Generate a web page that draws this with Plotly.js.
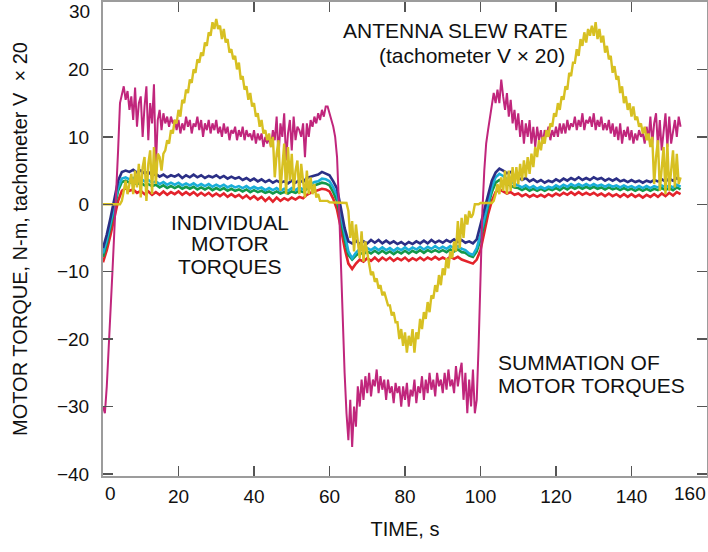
<!DOCTYPE html>
<html>
<head>
<meta charset="utf-8">
<script src="https://cdn.plot.ly/plotly-3.0.1.min.js"></script>
<style>
html,body{margin:0;padding:0;background:#fff;}
#chart{width:708px;height:552px;}
</style>
</head>
<body>
<div id="chart"></div>
<script>
// ---- Data ----
// Summation of motor torques, sampled every 0.5 s from t = 0 to 153 s
const summation = [
-30,-31,-27,-22,-16,-10,-4,1,8,15,
16.5,17.5,15.5,16.8,14,16,12.5,17.3,11.5,15,
16,10,14.5,17.5,9.5,15,12,17.8,5.5,12.5,
14,11,13.5,12,13,11.5,13,12,12.5,11,
12.5,10.5,12,11,13,11.5,12.5,10.5,12,11.5,
13,11,12.5,10,12,11,12.5,10.5,12,11,
12.5,10.5,11.5,10,12,10.5,11.5,9.5,11,10.5,
11.5,9.5,11,10,11.5,9.5,11,10,10.5,9.5,
11,9,10.5,9.5,10.5,8.5,10,9,10,8.5,
11,9.5,13,7,12,10,13.5,6.5,10.5,12.5,
8,13,9.5,11.5,11,10,12,7,12,10,
12.5,11.5,13,12,13.5,12.5,14,13,14.5,14.5,
13.5,12.5,11.5,10,7,0,-9,-18,-25,-31,
-35,-29,-36,-30,-33,-27,-30,-26,-29,-25.5,
-28,-25,-28.5,-26,-27,-24.5,-28,-25.5,-27.5,-26,
-29,-26,-28,-27,-29.5,-26.5,-28,-27,-30,-27,
-29,-26.5,-30,-27.5,-28.5,-26,-29.5,-27,-28,-25.5,
-29,-26,-28,-25,-27.5,-26,-28.5,-25,-27,-26,
-28,-25,-27.5,-24.5,-27,-26,-28,-24,-27,-25,
-23.5,-29,-25,-31,-26,-30,-24.5,-31,-29,-21,
-10,-1,5,9,11,13,15,16.5,15,17,
15,18.5,16,14,16.5,13,15.5,12,14,11,
13.5,10,12.5,9,12,10,12.5,9,11.5,8.5,
11.5,9.5,11,9,11,10,11.5,9.5,11,10,
11.5,10,12,10.5,12,10.5,12.5,11,12,11.5,
13,11,12.5,11.5,13.5,11,12.5,12,13,11.5,
13.5,11,12.5,11.5,13,11,12,11,12.5,10.5,
12,10,11.5,9.5,12,9,11,10,11.5,9.5,
11,9,10.5,9.5,11,10,10.5,9,11.5,9.5,
13,9,12,13.5,8.5,12.5,8,10.5,13.5,8.5,
13,9,11,12.5,10,13,11.5
];

// Antenna slew rate (tachometer V x 20), sampled every 0.5 s
const slewRate = [
0,0,0,0,0,0,0,0,0,0,
0.5,2,3.5,1.5,3,4.5,1.5,5,2.5,6,
1,5.5,7,0.5,6,8,1.5,8.5,3,7.5,
7,5,7.5,8,9.5,9,11,10.5,12.5,12,
14,13,15.5,15,17,16.5,18.5,18,20,19.5,
21.5,21,22.5,22,24,23.5,25.5,25,27,26,
27.5,26,26.5,24.5,26,24,24.5,22.5,23,21.5,
22,20,21,18.5,19,17,17.5,15.5,16.5,14.5,
15,13,13.5,11.5,12.5,10.5,11,9.5,10.5,8.5,
10,4,7.5,9.5,2,6,9,1.5,8.5,3.5,
7.5,2,5,6.5,1.5,6,3.5,1,5,1.5,
4,1.5,3,1,1.5,0.5,0.5,0.5,0.5,0.5,
0.3,0.3,0.3,0.3,0.3,0.3,0.3,0.2,0.2,0.2,
-1,-5,-2.5,-7,-3,-6,-8,-4,-8.5,-5.5,
-7,-9,-10.5,-10,-11.5,-11,-12.5,-12,-13.5,-13,
-14,-15,-15,-16.5,-16,-17.5,-17.5,-20,-18.5,-21,
-19,-22,-19.5,-21,-18.5,-22,-19,-20,-17,-18.5,
-16,-17,-14.5,-16,-13.5,-14,-12,-13,-10.5,-12,
-9.5,-10.5,-8,-9.5,-7,-8,-5.5,-7,-2.5,-6.5,
-2,-5,-1.5,-3,-1,-2,-1.5,0,0,0,
0.2,0.2,0.2,0.2,0.2,0.2,0.2,0.5,1.5,3,
1.5,4,2,5,1.5,5,2,5.5,2.5,5.5,
3,6,3.5,6.5,4,7,4.5,7.5,5.5,8.5,
7,9.5,8,10,9,11,10,12,11.5,13.5,
13,15,14,16,15.5,17.5,17,19.5,19,21,
21,23,22,24.5,23.5,25.5,24,26,25,26.5,
25,27,24.5,26,24,25,22.5,23.5,21.5,22,
19.5,20.5,18.5,19,16.5,17.5,15,16,14,15,
13,14.5,12.5,13,11.5,12,10.5,11.5,9.5,10.5,
8.5,10,3,7,9.5,2,6,8.5,1.5,9,
2,5,8,2.5,7.5,3,4
];

// Individual motor torques, sampled every 1 s from t = 0 to 153 s
const motorNavy = [
-6.5,-4.5,-2,0.6,3.5,4.8,5,4.8,5.1,4.7,
5,4.6,4.8,4.3,4.5,4.1,4.4,4.0,4.3,4.1,
4.4,3.9,4.3,4.0,4.4,4.0,4.3,3.9,4.2,4.0,
4.3,3.9,4.2,3.8,4.1,3.8,4.0,3.6,3.9,3.5,
3.8,3.4,3.7,3.3,3.6,3.2,3.5,3.2,3.4,3.1,
3.5,3.2,3.6,3.3,3.9,4.1,4.3,4.4,4.8,4.6,
4.3,3.4,2.3,-0.5,-3.5,-5.5,-5.8,-5.4,-5.9,-5.5,
-5.8,-5.3,-5.7,-5.3,-5.8,-5.4,-5.8,-5.5,-5.9,-5.6,
-6.0,-5.6,-5.9,-5.5,-5.8,-5.4,-5.8,-5.3,-5.7,-5.4,
-5.7,-5.3,-5.6,-5.2,-5.6,-5.3,-5.7,-5.5,-5.8,-5.2,
-3,-0.8,1.5,3.5,4.7,5.3,5.0,4.6,4.8,4.2,
4.0,3.6,3.9,3.4,3.7,3.3,3.6,3.2,3.5,3.3,
3.7,3.4,3.8,3.5,3.9,3.6,4.0,3.6,3.9,3.6,
4.0,3.7,3.9,3.5,3.8,3.5,3.8,3.4,3.6,3.3,
3.6,3.3,3.5,3.2,3.5,3.3,3.6,3.4,3.7,3.4,
3.8,3.5,3.9,3.6
];
const motorCyan = [
-7.3,-5.3,-2.8,-0.3,2.5,3.8,4.0,3.7,3.9,3.6,
3.8,3.4,3.6,3.2,3.4,3.0,3.3,2.9,3.2,2.9,
3.2,2.8,3.1,2.8,3.1,2.7,3.0,2.7,3.0,2.6,
2.9,2.6,2.9,2.5,2.8,2.5,2.7,2.4,2.7,2.3,
2.6,2.3,2.5,2.1,2.4,2.1,2.4,2.0,2.3,2.0,
2.4,2.1,2.5,2.2,2.8,3.0,3.3,3.4,3.8,3.7,
3.4,2.5,1.3,-1.5,-4.5,-7.0,-8.0,-7.2,-6.6,-6.9,
-6.5,-6.8,-6.4,-6.8,-6.4,-6.8,-6.5,-6.9,-6.5,-6.8,
-6.4,-6.8,-6.4,-6.7,-6.3,-6.7,-6.3,-6.6,-6.2,-6.6,
-6.3,-6.6,-6.2,-6.5,-6.2,-6.6,-6.8,-7.3,-7.5,-6.5,
-4.5,-2,0.5,2.5,4.0,4.5,4.2,3.7,3.5,3.0,
2.8,2.5,2.8,2.4,2.7,2.3,2.6,2.3,2.6,2.4,
2.8,2.5,2.9,2.6,3.0,2.7,3.0,2.7,3.0,2.7,
3.0,2.7,2.9,2.6,2.9,2.6,2.8,2.5,2.8,2.5,
2.7,2.4,2.7,2.4,2.7,2.4,2.7,2.5,2.8,2.5,
2.8,2.5,2.9,2.6
];
const motorGreen = [
-7.8,-5.8,-3.3,-0.8,2.0,3.3,3.5,3.2,3.3,3.0,
3.2,2.8,3.0,2.7,2.9,2.5,2.8,2.4,2.7,2.4,
2.7,2.3,2.6,2.3,2.6,2.2,2.5,2.2,2.5,2.1,
2.4,2.1,2.4,2.0,2.3,2.0,2.2,1.9,2.2,1.8,
2.1,1.8,2.0,1.7,1.9,1.6,1.9,1.6,1.8,1.6,
1.9,1.7,2.0,1.8,2.3,2.6,2.8,2.9,3.2,3.1,
2.8,1.8,0.5,-2.3,-5.2,-7.5,-8.2,-7.6,-7.2,-7.4,
-7.0,-7.3,-6.9,-7.3,-6.9,-7.3,-7.0,-7.4,-7.0,-7.3,
-6.9,-7.3,-6.9,-7.2,-6.8,-7.2,-6.8,-7.1,-6.8,-7.1,
-6.8,-7.1,-6.7,-7.0,-6.7,-7.1,-7.2,-7.6,-7.8,-7.0,
-5.2,-2.8,-0.2,1.8,3.2,3.6,3.3,3.0,2.8,2.5,
2.4,2.1,2.4,2.0,2.3,2.0,2.3,2.0,2.3,2.1,
2.4,2.1,2.5,2.2,2.6,2.3,2.6,2.3,2.6,2.3,
2.6,2.3,2.5,2.2,2.5,2.2,2.4,2.1,2.4,2.1,
2.3,2.0,2.3,2.0,2.3,2.0,2.3,2.1,2.4,2.1,
2.4,2.1,2.5,2.2
];
const motorRed = [
-8.6,-6.8,-4.5,-2.2,0.5,2.0,2.4,2.0,2.2,1.7,
2.0,1.5,1.9,1.4,1.8,1.4,1.9,1.4,1.8,1.5,
1.9,1.4,1.8,1.4,1.8,1.3,1.7,1.3,1.7,1.2,
1.6,1.2,1.6,1.1,1.5,1.1,1.4,0.9,1.3,0.8,
1.2,0.7,1.1,0.5,1.0,0.4,1.0,0.5,0.9,0.6,
1.0,0.7,1.1,0.9,1.4,1.7,1.9,2.0,2.3,2.2,
1.9,0.8,-0.8,-3.5,-6.5,-8.8,-9.6,-8.8,-8.2,-8.5,
-8.0,-8.4,-7.9,-8.4,-7.9,-8.3,-7.9,-8.4,-8.0,-8.3,
-7.9,-8.4,-8.0,-8.3,-7.9,-8.3,-7.9,-8.2,-7.8,-8.2,
-7.9,-8.2,-7.8,-8.1,-7.8,-8.2,-8.4,-8.7,-8.8,-8.2,
-6.8,-4.2,-1.5,0.5,1.8,2.2,1.9,1.6,1.8,1.4,
1.6,1.2,1.5,1.1,1.4,1.1,1.4,1.1,1.5,1.2,
1.6,1.3,1.7,1.4,1.8,1.4,1.8,1.4,1.7,1.4,
1.7,1.3,1.6,1.2,1.6,1.2,1.5,1.1,1.5,1.1,
1.5,1.1,1.4,1.0,1.4,1.1,1.5,1.1,1.6,1.2,
1.7,1.3,1.8,1.5
];

const FINE_STEP = 0.5;   // s between samples of summation / slew rate
const COARSE_STEP = 1;   // s between samples of the motor torques
const xTickVals = [20, 40, 60, 80, 100, 120, 140];
const yTickVals = [-40, -30, -20, -10, 0, 10, 20];

// ---- Build traces ----
const tFine = slewRate.map((_, i) => i * FINE_STEP);
const tCoarse = motorNavy.map((_, i) => i * COARSE_STEP);

function series(t, y, color, width) {
  return {x: t, y: y, type: 'scatter', mode: 'lines',
          line: {color: color, width: width}, hoverinfo: 'skip', showlegend: false};
}

const traces = [
  series(tCoarse, motorRed, '#E3232B', 2.6),
  series(tCoarse, motorGreen, '#13984A', 2.6),
  series(tCoarse, motorCyan, '#1AAED8', 2.6),
  series(tCoarse, motorNavy, '#2B2F86', 2.6),
  series(tFine, summation, '#C0267C', 2),
  series(tFine, slewRate, '#D7C022', 2.4)
];

const FONT = 'Liberation Sans, Arial, Helvetica, sans-serif';
const TICK_FONT = {family: FONT, size: 19, color: '#111'};
const axisCommon = {
  showgrid: false, zeroline: false,
  showline: true, linecolor: '#9c9c9c', linewidth: 2,
  mirror: 'ticks', ticks: 'inside', ticklen: 10, tickwidth: 1.5, tickcolor: '#555',
  tickfont: TICK_FONT
};

const ann = (text, x, y, opts) => Object.assign({
  text: text, x: x, y: y, xref: 'x', yref: 'y', showarrow: false,
  font: {family: FONT, size: 21, color: '#111'}
}, opts || {});

const layout = {
  width: 708, height: 552,
  margin: {l: 103, r: 1, t: 2, b: 76},
  paper_bgcolor: '#fff', plot_bgcolor: '#fff',
  xaxis: Object.assign({}, axisCommon, {
    range: [0, 160], tickvals: xTickVals, ticklabelstandoff: 2,
    title: {text: 'TIME, s', font: {family: FONT, size: 20, color: '#111'}, standoff: 16}
  }),
  yaxis: Object.assign({}, axisCommon, {
    range: [-40.3, 30], tickvals: yTickVals, ticklabelstandoff: 8,
    title: {text: 'MOTOR TORQUE, N-m, tachometer V  \u00d7 20', font: {family: FONT, size: 20, color: '#111'}, standoff: 24}
  }),
  annotations: [
    // edge tick labels (offset inward as in the reference)
    ann('30', 0, 30, {xref: 'paper', xanchor: 'right', yanchor: 'middle', xshift: -11, yshift: -9, font: TICK_FONT}),
    ann('0', 0, 0, {yref: 'paper', xanchor: 'center', yanchor: 'top', xshift: 7, yshift: -5, font: TICK_FONT}),
    ann('160', 160, 0, {yref: 'paper', xanchor: 'center', yanchor: 'top', xshift: -17, yshift: -5, font: TICK_FONT}),
    // text labels, one line each
    ann('ANTENNA SLEW RATE', 93.5, 25.75, {xanchor: 'center', yanchor: 'middle'}),
    ann('(tachometer V \u00d7 20)', 122.9, 22.1, {xanchor: 'right', yanchor: 'middle'}),
    ann('INDIVIDUAL', 33.6, -2.63, {xanchor: 'center', yanchor: 'middle'}),
    ann('MOTOR', 33.6, -5.89, {xanchor: 'center', yanchor: 'middle'}),
    ann('TORQUES', 33.6, -9.16, {xanchor: 'center', yanchor: 'middle'}),
    ann('SUMMATION OF', 104.1, -23.5, {xanchor: 'left', yanchor: 'middle'}),
    ann('MOTOR TORQUES', 104.1, -26.9, {xanchor: 'left', yanchor: 'middle'})
  ]
};

Plotly.newPlot('chart', traces, layout, {staticPlot: true, displayModeBar: false});
</script>
</body>
</html>
